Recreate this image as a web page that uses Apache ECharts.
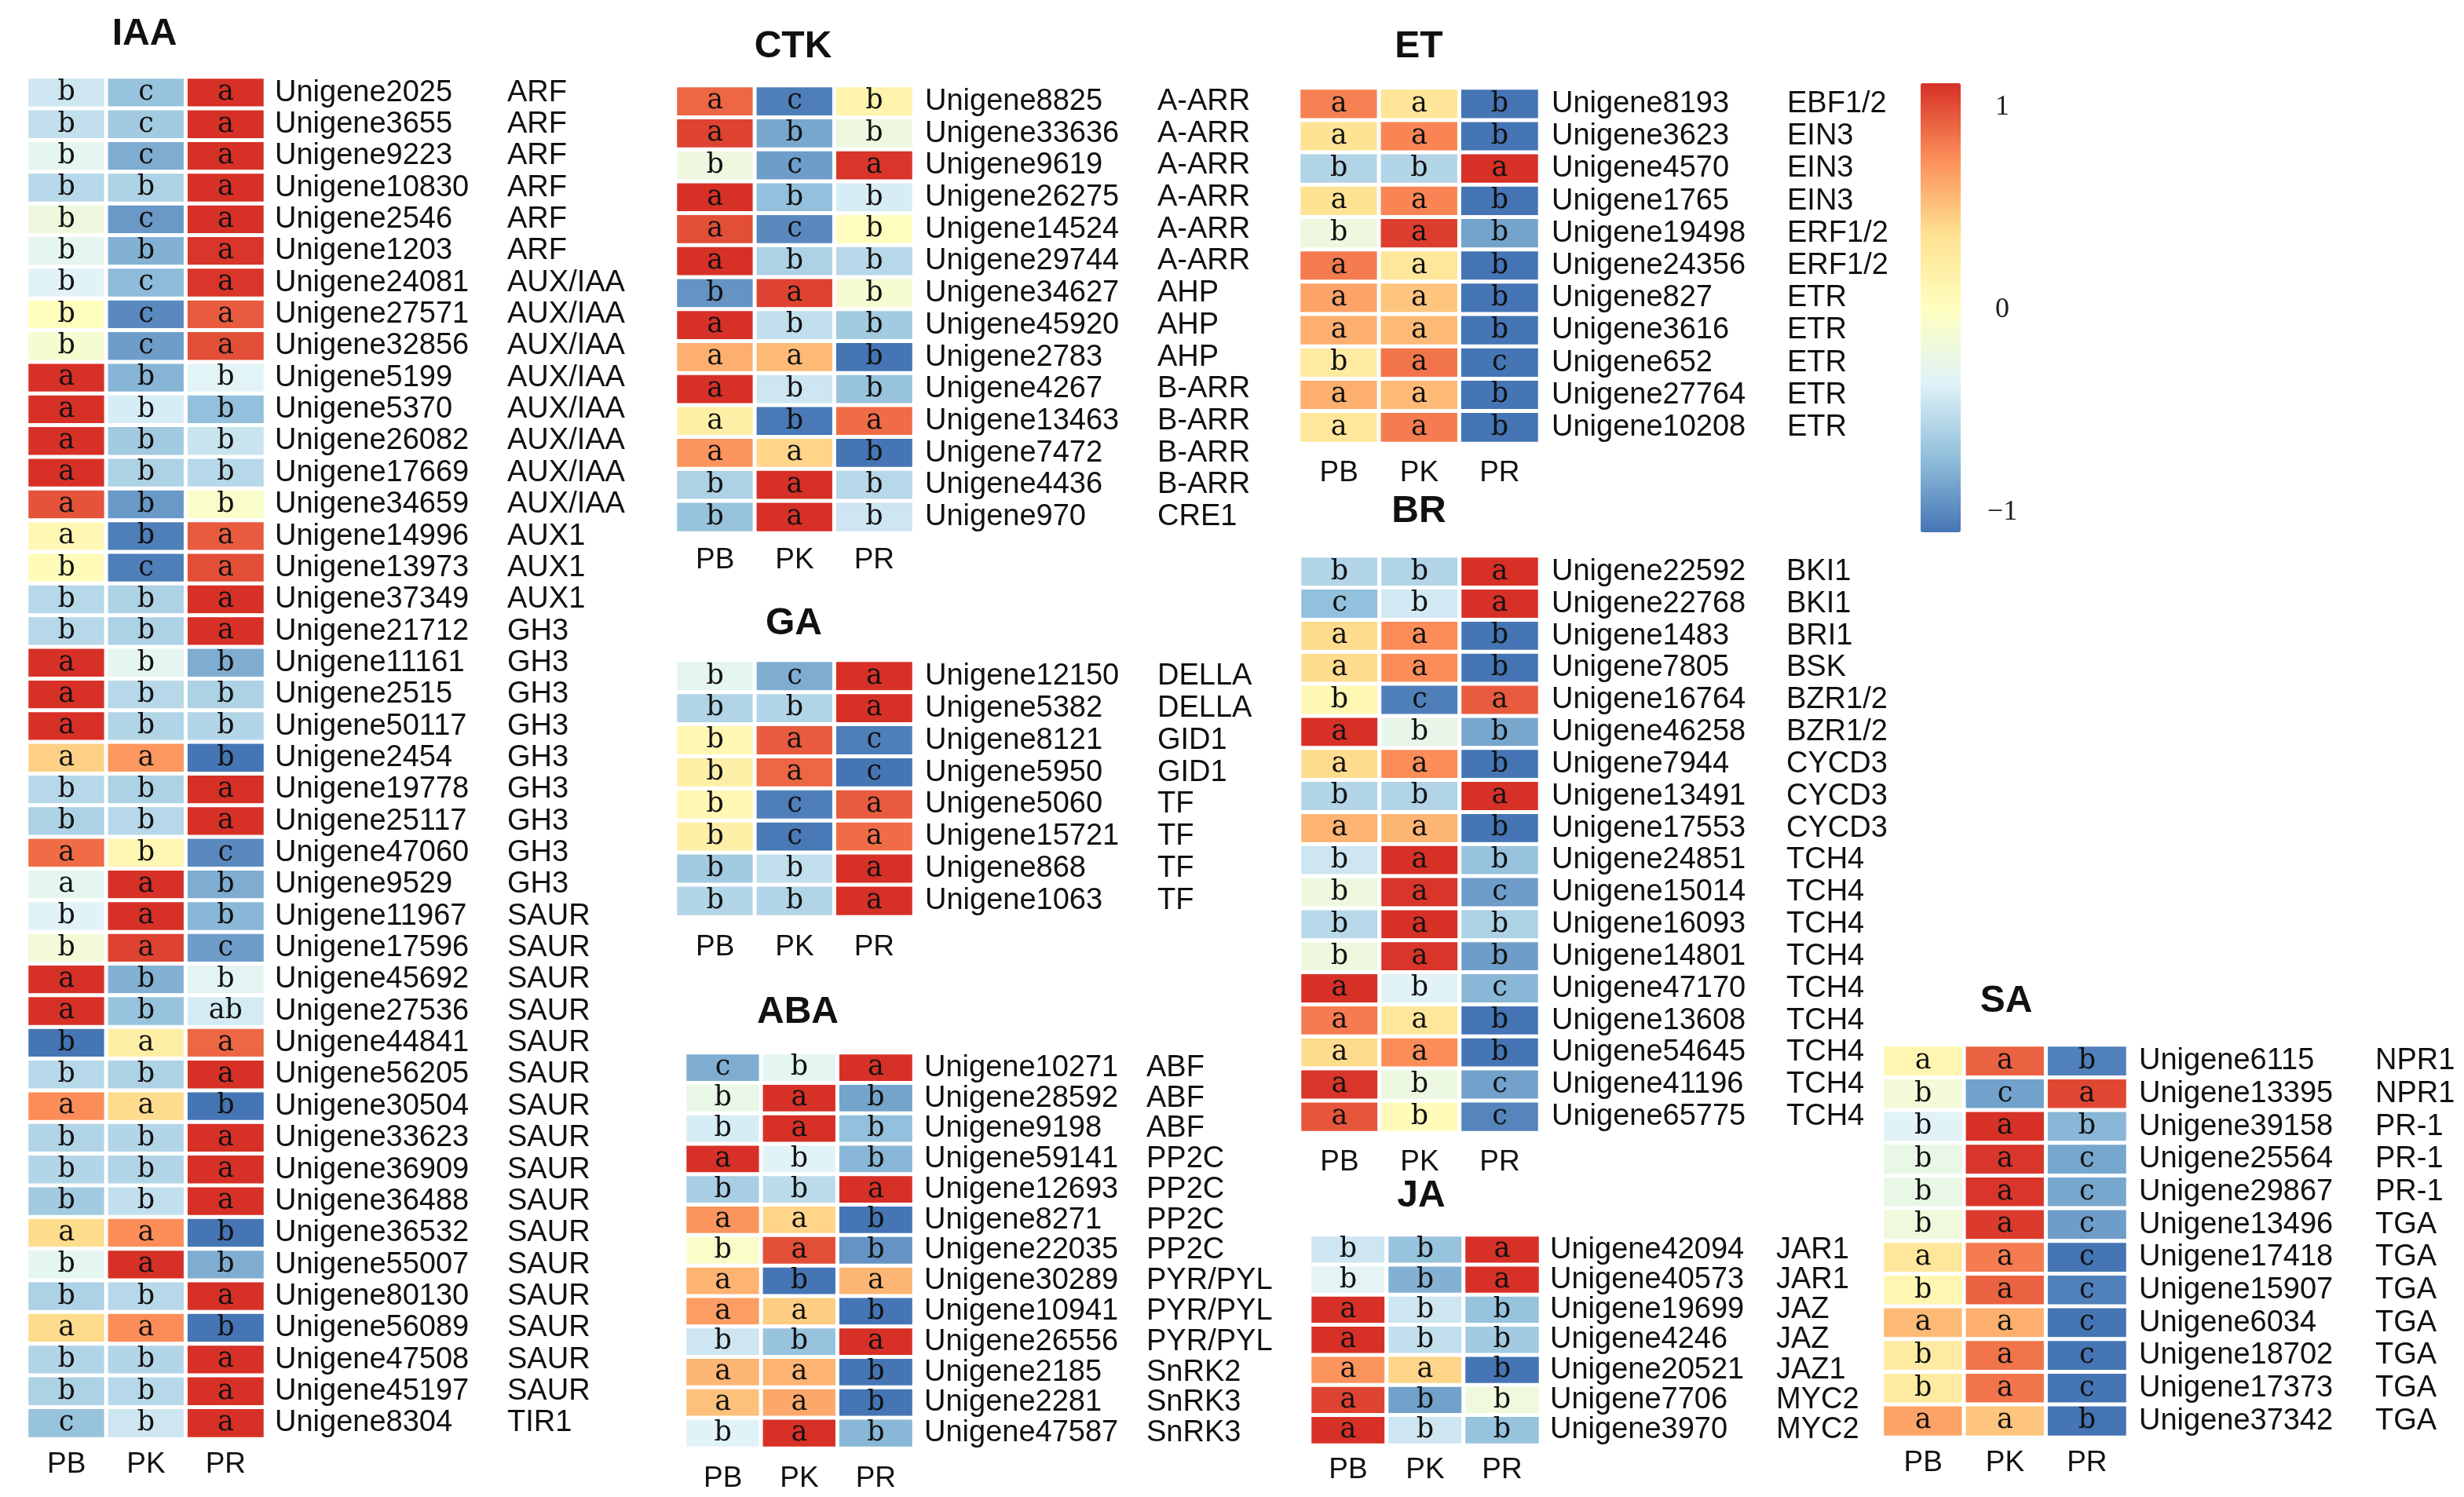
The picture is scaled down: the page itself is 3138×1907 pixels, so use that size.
<!DOCTYPE html>
<html lang="en">
  <head>
    <meta charset="UTF-8" />
    <title>Hormone signalling genes heatmap</title>
    <script src="https://cdn.jsdelivr.net/npm/echarts@6/dist/echarts.min.js"></script>
    <style>
      html,
      body {
        margin: 0;
        padding: 0;
        background: #fff;
      }
      #chart {
        width: 3138px;
        height: 1907px;
      }
    </style>
  </head>
  <body>
    <div id="chart"></div>

    <script>
      var samples = ["PB", "PK", "PR"];

      // ---------- IAA ----------
      var iaaGenes = [
        "Unigene2025", "Unigene3655", "Unigene9223", "Unigene10830", "Unigene2546", "Unigene1203",
        "Unigene24081", "Unigene27571", "Unigene32856", "Unigene5199", "Unigene5370", "Unigene26082",
        "Unigene17669", "Unigene34659", "Unigene14996", "Unigene13973", "Unigene37349", "Unigene21712",
        "Unigene11161", "Unigene2515", "Unigene50117", "Unigene2454", "Unigene19778", "Unigene25117",
        "Unigene47060", "Unigene9529", "Unigene11967", "Unigene17596", "Unigene45692", "Unigene27536",
        "Unigene44841", "Unigene56205", "Unigene30504", "Unigene33623", "Unigene36909", "Unigene36488",
        "Unigene36532", "Unigene55007", "Unigene80130", "Unigene56089", "Unigene47508", "Unigene45197",
        "Unigene8304"
      ];
      var iaaFamilies = [
        "ARF", "ARF", "ARF", "ARF", "ARF", "ARF",
        "AUX/IAA", "AUX/IAA", "AUX/IAA", "AUX/IAA", "AUX/IAA", "AUX/IAA",
        "AUX/IAA", "AUX/IAA", "AUX1", "AUX1", "AUX1", "GH3",
        "GH3", "GH3", "GH3", "GH3", "GH3", "GH3",
        "GH3", "GH3", "SAUR", "SAUR", "SAUR", "SAUR",
        "SAUR", "SAUR", "SAUR", "SAUR", "SAUR", "SAUR",
        "SAUR", "SAUR", "SAUR", "SAUR", "SAUR", "SAUR",
        "TIR1"
      ];
      var iaaValues = [
        [-0.45, -0.7, 1.15], [-0.5, -0.65, 1.15], [-0.3, -0.82, 1.12], [-0.55, -0.6, 1.15],
        [-0.2, -0.92, 1.12], [-0.3, -0.8, 1.1], [-0.35, -0.75, 1.1], [0.02, -1.0, 0.95],
        [-0.1, -0.9, 1.0], [1.12, -0.78, -0.34], [1.12, -0.4, -0.72], [1.12, -0.65, -0.47],
        [1.15, -0.6, -0.55], [0.98, -0.92, -0.06], [0.1, -1.05, 0.95], [0.05, -1.05, 1.0],
        [-0.55, -0.6, 1.15], [-0.55, -0.6, 1.15], [1.12, -0.3, -0.82], [1.15, -0.55, -0.6],
        [1.15, -0.58, -0.57], [0.45, 0.7, -1.15], [-0.55, -0.6, 1.15], [-0.6, -0.55, 1.15],
        [0.88, 0.12, -1.0], [-0.3, 1.12, -0.82], [-0.35, 1.12, -0.77], [-0.15, 1.05, -0.9],
        [1.12, -0.8, -0.32], [1.12, -0.7, -0.42], [-1.1, 0.2, 0.9], [-0.55, -0.6, 1.15],
        [0.75, 0.4, -1.15], [-0.58, -0.57, 1.15], [-0.57, -0.58, 1.15], [-0.65, -0.5, 1.15],
        [0.4, 0.75, -1.15], [-0.3, 1.12, -0.82], [-0.6, -0.55, 1.15], [0.4, 0.75, -1.15],
        [-0.58, -0.57, 1.15], [-0.6, -0.55, 1.15], [-0.7, -0.45, 1.15]
      ];
      var iaaLetters = [
        "b c a", "b c a", "b c a", "b b a", "b c a", "b b a", "b c a", "b c a", "b c a",
        "a b b", "a b b", "a b b", "a b b", "a b b", "a b a", "b c a", "b b a", "b b a",
        "a b b", "a b b", "a b b", "a a b", "b b a", "b b a", "a b c", "a a b", "b a b",
        "b a c", "a b b", "a b ab", "b a a", "b b a", "a a b", "b b a", "b b a", "b b a",
        "a a b", "b a b", "b b a", "a a b", "b b a", "b b a", "c b a"
      ];

      // ---------- CTK ----------
      var ctkGenes = [
        "Unigene8825", "Unigene33636", "Unigene9619", "Unigene26275", "Unigene14524", "Unigene29744",
        "Unigene34627", "Unigene45920", "Unigene2783", "Unigene4267", "Unigene13463", "Unigene7472",
        "Unigene4436", "Unigene970"
      ];
      var ctkFamilies = [
        "A-ARR", "A-ARR", "A-ARR", "A-ARR", "A-ARR", "A-ARR",
        "AHP", "AHP", "AHP", "B-ARR", "B-ARR", "B-ARR", "B-ARR", "CRE1"
      ];
      var ctkValues = [
        [0.9, -1.05, 0.15], [1.05, -0.85, -0.2], [-0.2, -0.9, 1.1], [1.12, -0.72, -0.4],
        [1.0, -1.0, 0.02], [1.15, -0.6, -0.55], [-0.95, 1.05, -0.1], [1.15, -0.5, -0.65],
        [0.6, 0.55, -1.15], [1.15, -0.45, -0.7], [0.2, -1.08, 0.88], [0.72, 0.43, -1.15],
        [-0.6, 1.15, -0.55], [-0.7, 1.15, -0.45]
      ];
      var ctkLetters = [
        "a c b", "a b b", "b c a", "a b b", "a c b", "a b b", "b a b",
        "a b b", "a a b", "a b b", "a b a", "a a b", "b a b", "b a b"
      ];

      // ---------- GA ----------
      var gaGenes = [
        "Unigene12150", "Unigene5382", "Unigene8121", "Unigene5950",
        "Unigene5060", "Unigene15721", "Unigene868", "Unigene1063"
      ];
      var gaFamilies = ["DELLA", "DELLA", "GID1", "GID1", "TF", "TF", "TF", "TF"];
      var gaValues = [
        [-0.3, -0.82, 1.12], [-0.58, -0.57, 1.15], [0.1, 0.95, -1.05], [0.2, 0.9, -1.1],
        [0.1, -1.05, 0.95], [0.2, -1.08, 0.88], [-0.65, -0.5, 1.15], [-0.57, -0.58, 1.15]
      ];
      var gaLetters = ["b c a", "b b a", "b a c", "b a c", "b c a", "b c a", "b b a", "b b a"];

      // ---------- ABA ----------
      var abaGenes = [
        "Unigene10271", "Unigene28592", "Unigene9198", "Unigene59141", "Unigene12693", "Unigene8271",
        "Unigene22035", "Unigene30289", "Unigene10941", "Unigene26556", "Unigene2185", "Unigene2281",
        "Unigene47587"
      ];
      var abaFamilies = [
        "ABF", "ABF", "ABF", "PP2C", "PP2C", "PP2C", "PP2C",
        "PYR/PYL", "PYR/PYL", "PYR/PYL", "SnRK2", "SnRK3", "SnRK3"
      ];
      var abaValues = [
        [-0.82, -0.3, 1.12], [-0.25, 1.12, -0.87], [-0.4, 1.12, -0.72], [1.12, -0.35, -0.77],
        [-0.62, -0.53, 1.15], [0.72, 0.43, -1.15], [-0.05, 1.0, -0.95], [0.58, -1.15, 0.57],
        [0.68, 0.47, -1.15], [-0.45, -0.7, 1.15], [0.57, 0.58, -1.15], [0.52, 0.63, -1.15],
        [-0.35, 1.12, -0.77]
      ];
      var abaLetters = [
        "c b a", "b a b", "b a b", "a b b", "b b a", "a a b", "b a b",
        "a b a", "a a b", "b b a", "a a b", "a a b", "b a b"
      ];

      // ---------- ET ----------
      var etGenes = [
        "Unigene8193", "Unigene3623", "Unigene4570", "Unigene1765", "Unigene19498", "Unigene24356",
        "Unigene827", "Unigene3616", "Unigene652", "Unigene27764", "Unigene10208"
      ];
      var etFamilies = [
        "EBF1/2", "EIN3", "EIN3", "EIN3", "ERF1/2", "ERF1/2", "ETR", "ETR", "ETR", "ETR", "ETR"
      ];
      var etValues = [
        [0.8, 0.32, -1.12], [0.35, 0.78, -1.13], [-0.58, -0.57, 1.15], [0.35, 0.78, -1.13],
        [-0.2, 1.07, -0.87], [0.82, 0.3, -1.12], [0.65, 0.5, -1.15], [0.6, 0.55, -1.15],
        [0.25, 0.85, -1.1], [0.6, 0.55, -1.15], [0.3, 0.82, -1.12]
      ];
      var etLetters = [
        "a a b", "a a b", "b b a", "a a b", "b a b", "a a b",
        "a a b", "a a b", "b a c", "a a b", "a a b"
      ];

      // ---------- BR ----------
      var brGenes = [
        "Unigene22592", "Unigene22768", "Unigene1483", "Unigene7805", "Unigene16764", "Unigene46258",
        "Unigene7944", "Unigene13491", "Unigene17553", "Unigene24851", "Unigene15014", "Unigene16093",
        "Unigene14801", "Unigene47170", "Unigene13608", "Unigene54645", "Unigene41196", "Unigene65775"
      ];
      var brFamilies = [
        "BKI1", "BKI1", "BRI1", "BSK", "BZR1/2", "BZR1/2", "CYCD3", "CYCD3", "CYCD3",
        "TCH4", "TCH4", "TCH4", "TCH4", "TCH4", "TCH4", "TCH4", "TCH4", "TCH4"
      ];
      var brValues = [
        [-0.57, -0.58, 1.15], [-0.72, -0.43, 1.15], [0.4, 0.75, -1.15], [0.4, 0.75, -1.15],
        [0.1, -1.05, 0.95], [1.12, -0.27, -0.85], [0.4, 0.75, -1.15], [-0.57, -0.58, 1.15],
        [0.58, 0.57, -1.15], [-0.45, 1.15, -0.7], [-0.2, 1.1, -0.9], [-0.55, 1.15, -0.6],
        [-0.2, 1.1, -0.9], [1.12, -0.35, -0.77], [0.82, 0.3, -1.12], [0.4, 0.75, -1.15],
        [1.1, -0.22, -0.88], [0.97, 0.05, -1.02]
      ];
      var brLetters = [
        "b b a", "c b a", "a a b", "a a b", "b c a", "a b b", "a a b", "b b a", "a a b",
        "b a b", "b a c", "b a b", "b a b", "a b c", "a a b", "a a b", "a b c", "a b c"
      ];

      // ---------- JA ----------
      var jaGenes = [
        "Unigene42094", "Unigene40573", "Unigene19699", "Unigene4246",
        "Unigene20521", "Unigene7706", "Unigene3970"
      ];
      var jaFamilies = ["JAR1", "JAR1", "JAZ", "JAZ", "JAZ1", "MYC2", "MYC2"];
      var jaValues = [
        [-0.45, -0.7, 1.15], [-0.32, -0.8, 1.12], [1.15, -0.45, -0.7], [1.15, -0.5, -0.65],
        [0.72, 0.43, -1.15], [1.05, -0.88, -0.17], [1.15, -0.45, -0.7]
      ];
      var jaLetters = ["b b a", "b b a", "a b b", "a b b", "a a b", "a b b", "a b b"];

      // ---------- SA ----------
      var saGenes = [
        "Unigene6115", "Unigene13395", "Unigene39158", "Unigene25564", "Unigene29867", "Unigene13496",
        "Unigene17418", "Unigene15907", "Unigene6034", "Unigene18702", "Unigene17373", "Unigene37342"
      ];
      var saFamilies = [
        "NPR1", "NPR1", "PR-1", "PR-1", "PR-1", "TGA", "TGA", "TGA", "TGA", "TGA", "TGA", "TGA"
      ];
      var saValues = [
        [0.12, 0.92, -1.04], [-0.15, -0.88, 1.03], [-0.35, 1.12, -0.77], [-0.25, 1.1, -0.85],
        [-0.25, 1.1, -0.85], [-0.18, 1.08, -0.9], [0.3, 0.82, -1.12], [0.12, 0.92, -1.04],
        [0.55, 0.6, -1.15], [0.25, 0.85, -1.1], [0.25, 0.85, -1.1], [0.65, 0.5, -1.15]
      ];
      var saLetters = [
        "a a b", "b c a", "b a b", "b a c", "b a c", "b a c",
        "a a c", "b a c", "a a c", "b a c", "b a c", "a a b"
      ];

      // colour bar
      var scaleMin = -1.1;
      var scaleMax = 1.12;
      var scaleTicks = [-1, 0, 1];
      var palette = ["#4575B4", "#91BFDB", "#E0F3F8", "#FFFFBF", "#FEE090", "#FC8D59", "#D73027"];

      // panel layout (pixels)
      var panels = [
        { name: "IAA", genes: iaaGenes, families: iaaFamilies, values: iaaValues, letters: iaaLetters,
          left: 34, top: 98, width: 304, height: 1735, geneGap: 12, famOffset: 296, xMargin: 14, tx: 184, ty: 44 },
        { name: "CTK", genes: ctkGenes, families: ctkFamilies, values: ctkValues, letters: ctkLetters,
          left: 860, top: 109, width: 304, height: 570, geneGap: 14, famOffset: 296, xMargin: 16, tx: 1010, ty: 60 },
        { name: "GA", genes: gaGenes, families: gaFamilies, values: gaValues, letters: gaLetters,
          left: 860, top: 841, width: 304, height: 327, geneGap: 14, famOffset: 296, xMargin: 20, tx: 1011, ty: 795 },
        { name: "ABA", genes: abaGenes, families: abaFamilies, values: abaValues, letters: abaLetters,
          left: 872, top: 1341, width: 292, height: 504, geneGap: 13, famOffset: 283, xMargin: 20, tx: 1016, ty: 1290 },
        { name: "ET", genes: etGenes, families: etFamilies, values: etValues, letters: etLetters,
          left: 1654, top: 112, width: 307, height: 453, geneGap: 15, famOffset: 300, xMargin: 19, tx: 1807, ty: 60 },
        { name: "BR", genes: brGenes, families: brFamilies, values: brValues, letters: brLetters,
          left: 1655, top: 708, width: 306, height: 735, geneGap: 15, famOffset: 299, xMargin: 19, tx: 1807, ty: 652 },
        { name: "JA", genes: jaGenes, families: jaFamilies, values: jaValues, letters: jaLetters,
          left: 1668, top: 1573, width: 294, height: 268, geneGap: 12, famOffset: 288, xMargin: 13, tx: 1810, ty: 1524 },
        { name: "SA", genes: saGenes, families: saFamilies, values: saValues, letters: saLetters,
          left: 2397, top: 1331, width: 313, height: 500, geneGap: 14, famOffset: 301, xMargin: 14, tx: 2555, ty: 1276 }
      ];

      var sansFont = "Liberation Sans, Arial, sans-serif";
      var textColor = "#111";

      var titles = [];
      var grids = [];
      var xAxes = [];
      var yAxes = [];
      var series = [];

      panels.forEach(function (p, i) {
        titles.push({
          text: p.name,
          left: p.tx,
          top: p.ty,
          textAlign: "center",
          textVerticalAlign: "middle",
          padding: 0,
          textStyle: { fontFamily: sansFont, fontWeight: "bold", fontSize: 48, color: "#111" }
        });
        grids.push({ left: p.left, top: p.top, width: p.width, height: p.height });
        xAxes.push({
          type: "category",
          gridIndex: i,
          data: samples,
          position: "bottom",
          axisLine: { show: false },
          axisTick: { show: false },
          splitLine: { show: false },
          axisLabel: { margin: p.xMargin, fontFamily: sansFont, fontSize: 37, color: textColor }
        });
        yAxes.push({
          type: "category",
          gridIndex: i,
          data: p.genes,
          inverse: true,
          position: "right",
          axisLine: { show: false },
          axisTick: { show: false },
          splitLine: { show: false },
          axisLabel: { interval: 0, margin: p.geneGap, align: "left", fontFamily: sansFont, fontSize: 38, color: textColor }
        });
        yAxes.push({
          type: "category",
          gridIndex: i,
          data: p.families,
          inverse: true,
          position: "right",
          offset: p.famOffset,
          axisLine: { show: false },
          axisTick: { show: false },
          splitLine: { show: false },
          axisLabel: { interval: 0, margin: p.geneGap, align: "left", fontFamily: sansFont, fontSize: 38, color: textColor }
        });

        var data = [];
        p.values.forEach(function (row, r) {
          var marks = p.letters[r].split(" ");
          row.forEach(function (v, c) {
            data.push({ value: [c, r, v], letter: marks[c] });
          });
        });
        series.push({
          name: p.name,
          type: "heatmap",
          xAxisIndex: i,
          yAxisIndex: i * 2,
          data: data,
          itemStyle: { borderColor: "#fff", borderWidth: 5 },
          label: {
            show: true,
            formatter: function (params) {
              return params.data.letter;
            },
            fontFamily: "DejaVu Serif, serif",
            fontSize: 35,
            color: "#111"
          },
          emphasis: { disabled: true }
        });
      });

      // axis that carries the colour bar ticks
      var barIndex = panels.length;
      grids.push({ left: 2446, top: 106, width: 51, height: 572 });
      xAxes.push({ type: "value", gridIndex: barIndex, show: false });
      yAxes.push({
        type: "value",
        gridIndex: barIndex,
        min: scaleMin,
        max: scaleMax,
        position: "right",
        axisLine: { show: false },
        axisTick: { show: false },
        splitLine: { show: false },
        axisLabel: {
          customValues: scaleTicks,
          align: "center",
          margin: 53,
          fontFamily: "Liberation Serif, Times New Roman, serif",
          fontSize: 36,
          color: "#222",
          formatter: function (v) {
            return v < 0 ? "\u2212" + Math.abs(v) : String(v);
          }
        }
      });

      var chart = echarts.init(document.getElementById("chart"));
      chart.setOption({
        backgroundColor: "#fff",
        animation: false,
        title: titles,
        grid: grids,
        xAxis: xAxes,
        yAxis: yAxes,
        visualMap: {
          type: "continuous",
          min: scaleMin,
          max: scaleMax,
          dimension: 2,
          seriesIndex: series.map(function (s, i) { return i; }),
          calculable: false,
          hoverLink: false,
          left: 2446,
          top: 106,
          padding: 0,
          itemWidth: 51,
          itemHeight: 572,
          inRange: { color: palette }
        },
        series: series
      });
    </script>
  </body>
</html>
